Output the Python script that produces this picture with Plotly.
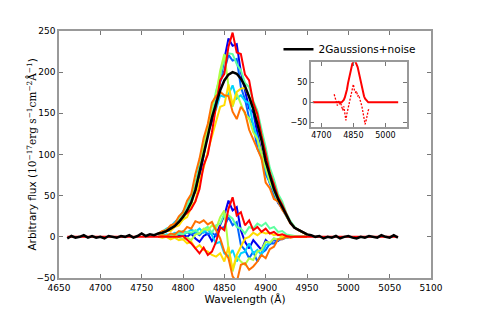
import plotly.graph_objects as go

# ---------------- data ----------------
wavelength = list(range(4660, 5061, 5))
black_flux = [
    -2, 1, -1, 0, 2, -1, 1, -1, 0, -2,
    1, 0, -1, 1, 0, 2, -1, 1, 4, 1,
    3, 2, 4, 5, 7, 10, 13, 18, 24, 32,
    42, 57, 78, 100, 122, 145, 163, 178, 190, 197,
    200, 198, 192, 183, 170, 155, 137, 117, 92, 74,
    58, 46, 36, 26, 17, 11, 8, 5, 3, 2,
    0, 1, -2, 0, -1, 1, -2, 0, 1, -1,
    -2, 0, -1, 1, 0, -1, 2, 0, -1, 2,
    -1,
]

core_wavelength = list(range(4770, 4951, 5))
resid_blue = [0, 0, 1, 0, 2, 1, 3, 0, 4, -2, -6, 1, 4, -5, 3, 14, 26, 44, 32, 36, 8, -6, -14,
              -4, -10, -16, -4, -9, -3, -5, -1, -1, 0, 0, 0, 0, 0]
resid_dodger = [0, 1, 1, 3, 1, 4, 2, 6, 3, 5, 2, 7, 3, 5, 1, 10, 12, 24, 14, 18, -10, -16, -26,
                -18, -30, -20, -16, -8, -8, -3, -3, -1, 0, 0, 0, 0, 0]
resid_cyan = [0, 1, 3, 2, 5, 4, 7, 5, 9, 6, 10, 5, 9, 2, -8, -6, -20, -24, -16, -30, -20, -18, -8,
              -20, -16, -22, -10, -8, -2, -4, -1, 0, 0, 0, 0, 0, 0]
resid_aqua = [0, 1, 2, 1, 3, 4, 3, 6, 5, 8, 4, 9, 12, 5, 14, 16, 28, 26, 22, 12, 10, 4, 12,
              10, 16, 13, 17, 10, 12, 6, 7, 3, 2, 1, 0, 0, 0]
resid_lime = [0, 0, 1, 0, 2, -1, -3, -1, -4, 3, 4, 10, 8, 14, 10, 24, 32, -14, -42, -24, -30, -34, -26,
              -28, -18, -16, -6, -7, -2, -3, 0, -1, 0, 0, 0, 0, 0]
resid_yellow = [0, -1, 0, -3, -1, -4, -3, -8, -6, -14, -10, -16, -18, -22, -24, -20, -30, -12, -40, -22, -12, -2, 0,
                5, 2, 6, 4, 5, 2, 3, 0, 1, 0, 0, 0, 0, 0]
resid_orange = [0, 2, 1, 4, 3, 7, 6, 12, 10, 19, 17, 20, 15, 18, 8, -2, -18, -26, -48, -55, -34, -32, -40,
                -36, -30, -22, -26, -15, -12, -3, -3, 0, -1, 0, 0, 0, 0]
resid_red = [0, 0, 0, 0, 0, 0, 1, -3, -8, -14, -20, -13, -22, -18, -6, 12, 8, 34, 48, 26, 30, 14, 20,
             8, 12, 6, 10, 4, 6, 2, 3, 1, 0, 0, 0, 0, 0]

inset_gauss_wl = [4660, 4795, 4800, 4805, 4810, 4815, 4820, 4825, 4830, 4835, 4840, 4845, 4850, 4855,
                  4860, 4865, 4870, 4875, 4880, 4885, 4890, 4895, 4900, 4905, 4910, 4915, 4920, 5060]
inset_gauss = [0, 0, 3, 6, 12, 20, 32, 48, 62, 76, 88, 96, 101, 104,
               101, 96, 88, 76, 62, 48, 35, 24, 15, 9, 5, 2, 0, 0]
inset_resid_wl = list(range(4760, 4926, 5))
inset_resid = [20, 8, 2, -8, 5, -5, 0, -12, -20, -10, -30, -45, -28, -15, -2, 10, 20, 28, 45, 30,
               25, 28, 15, 18, 8, 5, -10, -25, -40, -55, -45, -30, -20, -15]

x_ticks = list(range(4650, 5101, 50))
y_ticks = list(range(-50, 251, 50))
inset_x_ticks = [4700, 4850, 5000]
inset_y_ticks = [-50, 0, 50]

# ---------------- figure ----------------
series = [
    ("#0000f0", resid_blue),
    ("#0066ff", resid_dodger),
    ("#00d4ff", resid_cyan),
    ("#5effa0", resid_aqua),
    ("#b0ff45", resid_lime),
    ("#ffdd00", resid_yellow),
    ("#ff7000", resid_orange),
    ("#ff0000", resid_red),
]

fig = go.Figure()
for color, res in series:
    upper = [black_flux[wavelength.index(w)] + r for w, r in zip(core_wavelength, res)]
    fig.add_trace(go.Scatter(x=core_wavelength, y=upper, mode="lines",
                             line=dict(color=color, width=2), showlegend=False,
                             hoverinfo="skip"))
for color, res in series:
    if color == "#ff0000":
        xs = [wavelength[0]] + core_wavelength + [wavelength[-1]]
        ys = [0] + res + [0]
    else:
        xs, ys = core_wavelength, res
    fig.add_trace(go.Scatter(x=xs, y=ys, mode="lines",
                             line=dict(color=color, width=2), showlegend=False,
                             hoverinfo="skip"))

fig.add_trace(go.Scatter(x=wavelength, y=black_flux, mode="lines",
                         line=dict(color="black", width=2.5),
                         name="2Gaussions+noise"))

fig.add_trace(go.Scatter(x=inset_gauss_wl, y=inset_gauss, mode="lines",
                         line=dict(color="#ff0000", width=2), showlegend=False,
                         xaxis="x2", yaxis="y2"))
fig.add_trace(go.Scatter(x=inset_resid_wl, y=inset_resid, mode="lines",
                         line=dict(color="#ff0000", width=1.3, dash="2px,1.5px"), showlegend=False,
                         xaxis="x2", yaxis="y2"))

axis_common = dict(ticks="inside", ticklen=4, tickcolor="#777", showline=True,
                   linecolor="#999", linewidth=1.5, mirror="ticks", showgrid=False,
                   zeroline=False, automargin=False,
                   tickfont=dict(family="DejaVu Sans", size=9, color="black"))
inset_tickfont = dict(family="DejaVu Sans", size=8, color="black")

y_title = ("Arbitrary flux (<span style='font-family:DejaVu Serif'>10<sup>−17</sup>erg s<sup>−1</sup>"
           "cm<sup>−2</sup>Å<sup>−1</sup></span>)")

fig.update_layout(
    width=480, height=320,
    margin=dict(l=51, r=57, t=23, b=50),
    paper_bgcolor="white", plot_bgcolor="white",
    font=dict(family="DejaVu Sans", color="black"),
    xaxis=dict(domain=[0, 1], range=[4650, 5100], tickvals=x_ticks,
               title=dict(text="Wavelength (Å)", font=dict(size=10.5), standoff=4),
               **axis_common),
    yaxis=dict(domain=[0, 1], range=[-50, 250], tickvals=y_ticks, **axis_common),
    xaxis2=dict(domain=[0.6766, 0.9347], range=[4650, 5100], tickvals=inset_x_ticks,
                anchor="y2", **{**axis_common, "tickfont": inset_tickfont}),
    yaxis2=dict(domain=[0.6126, 0.8733], range=[-61, 100], tickvals=inset_y_ticks,
                anchor="x2", **{**axis_common, "tickfont": inset_tickfont}),
    legend=dict(x=0.59, y=0.985, xanchor="left", yanchor="top", bgcolor="rgba(0,0,0,0)",
                font=dict(size=10.5), itemwidth=30),
    annotations=[dict(text=y_title, textangle=-90, x=-0.075, y=0.5, xref="paper", yref="paper",
                      xanchor="center", yanchor="middle", showarrow=False,
                      font=dict(size=10.5, color="black"))],
)

fig.write_html("out.html")
